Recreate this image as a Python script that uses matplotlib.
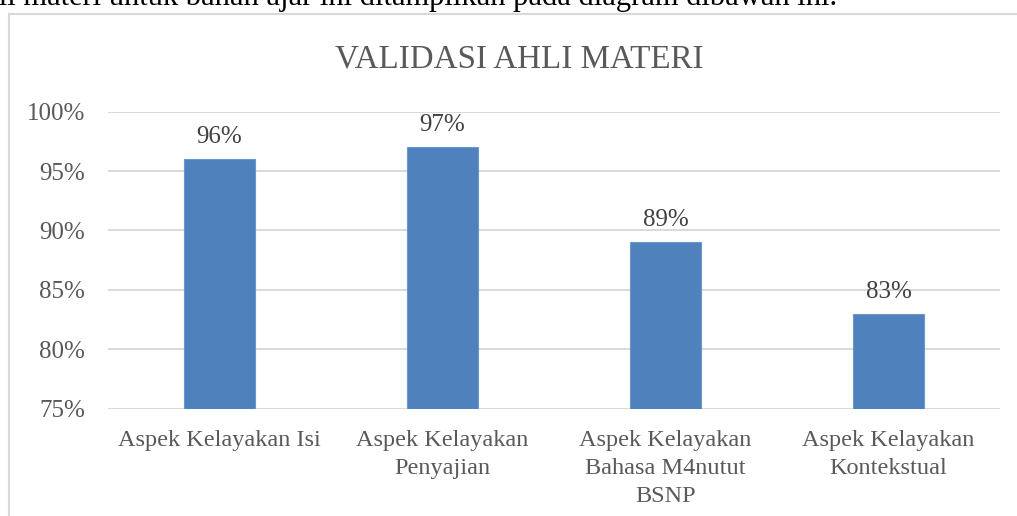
import matplotlib
matplotlib.use("Agg")
import matplotlib.pyplot as plt
from matplotlib.lines import Line2D
from matplotlib.ticker import FuncFormatter

categories = ["Aspek Kelayakan Isi", "Aspek Kelayakan\nPenyajian",
              "Aspek Kelayakan\nBahasa M4nutut\nBSNP", "Aspek Kelayakan\nKontekstual"]
values = [96, 97, 89, 83]
yticks = [75, 80, 85, 90, 95, 100]
title = "VALIDASI AHLI MATERI"
top_text = "Hasil validasi ahli materi untuk bahan ajar ini ditampilkan pada diagram dibawah ini."

plt.rcParams['font.family'] = ['Liberation Serif', 'DejaVu Serif']

W, H = 1017, 516
fig = plt.figure(figsize=(W / 100, H / 100), dpi=100)
fig.patch.set_facecolor("white")

ax = fig.add_axes([108 / W, 1 - 408.5 / H, (1000 - 108) / W, (408.5 - 111.7) / H])

x = list(range(len(categories)))
bars = ax.bar(x, [v - yticks[0] for v in values], bottom=yticks[0], width=0.315,
              color="#4F81BD", edgecolor="#6A98CE", linewidth=0.8, zorder=3)

ax.set_xlim(-0.5, len(categories) - 0.5)
ax.set_ylim(yticks[0], yticks[-1])
ax.set_yticks(yticks)
ax.yaxis.set_major_formatter(FuncFormatter(lambda v, p: f"{v:.0f}%"))
ax.set_xticks(x)
ax.set_xticklabels(categories, fontsize=17.5, color="#595959", linespacing=1.45)
ax.tick_params(axis="y", length=0, pad=16.5, labelsize=18, labelcolor="#595959")
ax.tick_params(axis="x", length=0, pad=15.5)
ax.grid(axis="y", color="#D9D9D9", linewidth=1.4, zorder=0)
for s in ax.spines.values():
    s.set_visible(False)
ax.patch.set_alpha(0)

for xi, v in zip(x, values):
    ax.annotate(f"{v}%", xy=(xi, v), xytext=(0, 11.5), textcoords="offset points",
                ha="center", va="baseline", fontsize=18, color="#404040")

fig.text(519 / W, 1 - 68 / H, title, ha="center", va="baseline",
         fontsize=23.8, color="#595959")

fig.text(837 / W, 1 - 5 / H, top_text, ha="right", va="baseline",
         fontsize=22, color="black")

# chart frame
fig.add_artist(Line2D([9 / W, 9 / W], [0, 1 - 14 / H], transform=fig.transFigure,
                      color="#D9D9D9", linewidth=1.5))
fig.add_artist(Line2D([9 / W, 1], [1 - 14 / H, 1 - 14 / H], transform=fig.transFigure,
                      color="#D9D9D9", linewidth=1.5))

fig.savefig("out.png", dpi=100)
